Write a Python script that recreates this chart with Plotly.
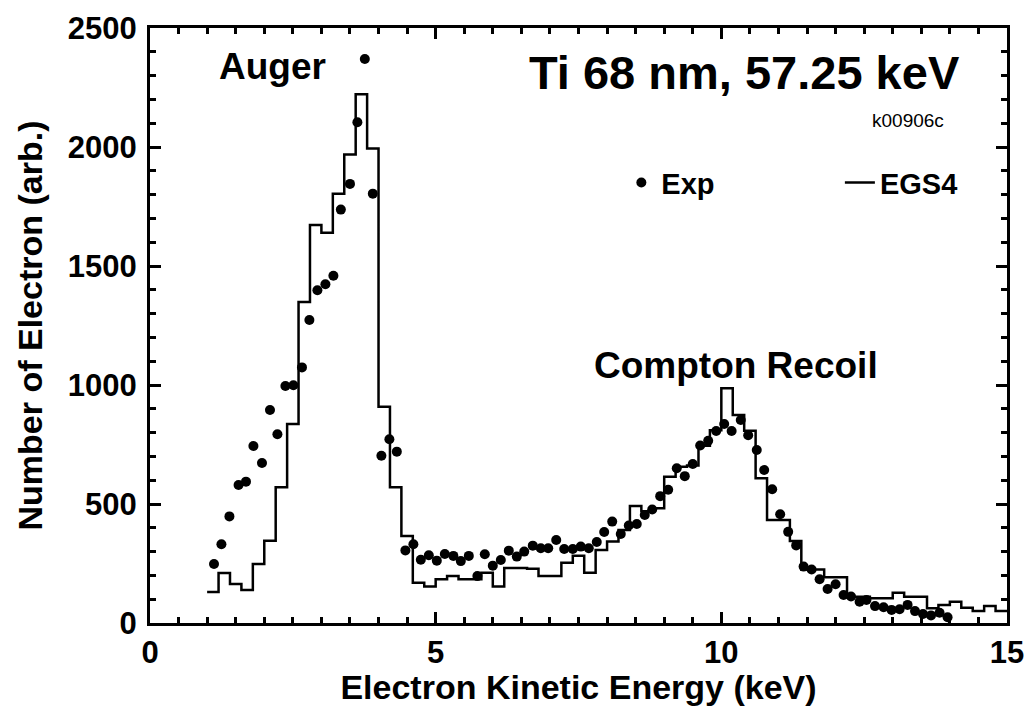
import plotly.graph_objects as go

# ---- Experimental points (Exp) ----
exp_x = [1.12, 1.25, 1.39, 1.55, 1.68, 1.81, 1.96, 2.10, 2.23, 2.37, 2.51, 2.66, 2.79, 2.93,
         3.07, 3.21, 3.34, 3.50, 3.63, 3.76, 3.90, 4.05, 4.19, 4.32, 4.47, 4.61, 4.74, 4.88,
         5.02, 5.16, 5.31, 5.44, 5.58, 5.73, 5.86, 6.00, 6.14, 6.28, 6.42, 6.55, 6.70, 6.84,
         6.97, 7.11, 7.25, 7.40, 7.54, 7.68, 7.82, 7.95, 8.09, 8.24, 8.38, 8.52, 8.66, 8.79,
         8.93, 9.07, 9.22, 9.36, 9.50, 9.63, 9.77, 9.91, 10.05, 10.18, 10.34, 10.47, 10.62,
         10.75, 10.89, 11.03, 11.17, 11.31, 11.44, 11.58, 11.72, 11.86, 12.00, 12.14, 12.27,
         12.42, 12.54, 12.69, 12.84, 12.98, 13.12, 13.26, 13.39, 13.53, 13.67, 13.82, 13.96]
exp_y = [248, 331, 448, 580, 594, 744, 672, 895, 793, 996, 999, 1074, 1273, 1398,
         1423, 1459, 1737, 1845, 2104, 2370, 1804, 703, 772, 720, 305, 331, 266, 285,
         262, 290, 282, 260, 282, 197, 289, 241, 265, 304, 279, 300, 325, 314,
         314, 349, 311, 311, 321, 314, 340, 382, 426, 374, 410, 416, 454, 477,
         533, 560, 650, 617, 668, 746, 766, 807, 836, 807, 853, 789, 727,
         643, 562, 457, 383, 326, 237, 225, 184, 143, 163, 118, 111,
         89, 97, 71, 66, 55, 58, 76, 50, 38, 32, 43, 24]

# ---- EGS4 simulation histogram (bin edges and counts) ----
egs_edges = [1.0, 1.2, 1.4, 1.6, 1.8, 2.0, 2.2, 2.4, 2.6, 2.8, 3.0, 3.2, 3.4, 3.6, 3.8,
             4.0, 4.2, 4.4, 4.6, 4.8, 5.0, 5.2, 5.4, 5.6, 5.8, 6.0, 6.2, 6.4, 6.6, 6.8,
             7.0, 7.2, 7.4, 7.6, 7.8, 8.0, 8.2, 8.4, 8.6, 8.8, 9.0, 9.2, 9.4, 9.6, 9.8,
             10.0, 10.2, 10.4, 10.6, 10.8, 11.0, 11.2, 11.4, 11.6, 11.8, 12.0, 12.2, 12.4,
             12.6, 12.8, 13.0, 13.2, 13.4, 13.6, 13.8, 14.0, 14.2, 14.4, 14.6, 14.8, 15.0]
egs_counts = [130, 210, 164, 139, 248, 346, 570, 836, 1349, 1672, 1640, 1804, 1969, 2222, 1994,
              909, 570, 366, 169, 153, 184, 197, 184, 184, 211, 153, 231, 231, 228, 197,
              197, 253, 283, 211, 307, 342, 391, 492, 470, 482, 615, 657, 662, 745, 810,
              986, 874, 808, 608, 433, 433, 345, 225, 225, 192, 192, 110, 110,
              104, 104, 127, 110, 110, 62, 76, 89, 64, 50, 71, 50]

FONT = "Arial, Liberation Sans, Helvetica, sans-serif"

step_y = egs_counts + [egs_counts[-1]]

fig = go.Figure()
fig.add_trace(go.Scatter(
    x=exp_x, y=exp_y, mode="markers", name="Exp", legend="legend",
    marker=dict(color="black", size=10, symbol="circle"),
))
fig.add_trace(go.Scatter(
    x=egs_edges, y=step_y, mode="lines", name="EGS4", legend="legend2",
    line=dict(color="black", width=2.5, shape="hv"),
))

axis_common = dict(
    showline=True, linecolor="black", linewidth=3, mirror="ticks",
    ticks="inside", ticklen=11, tickwidth=2.5, tickcolor="black",
    showgrid=False, zeroline=False, automargin=False,
    tickfont=dict(family=FONT, size=31, color="black", weight="bold"),
)

fig.update_xaxes(
    range=[0, 15], tickvals=[0, 5, 10, 15],
    minor=dict(dtick=0.5, ticks="inside", ticklen=6, tickwidth=2.5, tickcolor="black", showgrid=False),
    title=dict(text="Electron Kinetic Energy (keV)",
               font=dict(family=FONT, size=34, color="black", weight="bold")),
    **axis_common,
)
fig.update_yaxes(
    range=[0, 2500], tickvals=[0, 500, 1000, 1500, 2000, 2500],
    minor=dict(dtick=100, ticks="inside", ticklen=6, tickwidth=2.5, tickcolor="black", showgrid=False),
    title=dict(text="Number of Electron (arb.)",
               font=dict(family=FONT, size=34, color="black", weight="bold")),
    ticklabelstandoff=4,
    **axis_common,
)

annos = [
    dict(x=10.41, y=2311, text="Ti 68 nm, 57.25 keV", size=47, bold=True),
    dict(x=13.27, y=2110, text="k00906c", size=19, bold=False),
    dict(x=2.14, y=2340, text="Auger", size=37, bold=True),
    dict(x=10.26, y=1084, text="Compton Recoil", size=37, bold=True),
]
for a in annos:
    fig.add_annotation(
        x=a["x"], y=a["y"], xref="x", yref="y", text=a["text"], showarrow=False,
        xanchor="center", yanchor="middle",
        font=dict(family=FONT, size=a["size"], color="black",
                  weight="bold" if a["bold"] else "normal"),
    )

legend_font = dict(family=FONT, size=29, color="black", weight="bold")
fig.update_layout(
    width=1036, height=706,
    margin=dict(l=150, r=29, t=28, b=83, autoexpand=False),
    paper_bgcolor="white", plot_bgcolor="white",
    showlegend=True,
    legend=dict(x=0.55, y=0.74, xanchor="left", yanchor="middle",
                bgcolor="rgba(0,0,0,0)", font=legend_font),
    legend2=dict(x=0.805, y=0.74, xanchor="left", yanchor="middle",
                 bgcolor="rgba(0,0,0,0)", font=legend_font),
)

fig.write_html("out.html")
